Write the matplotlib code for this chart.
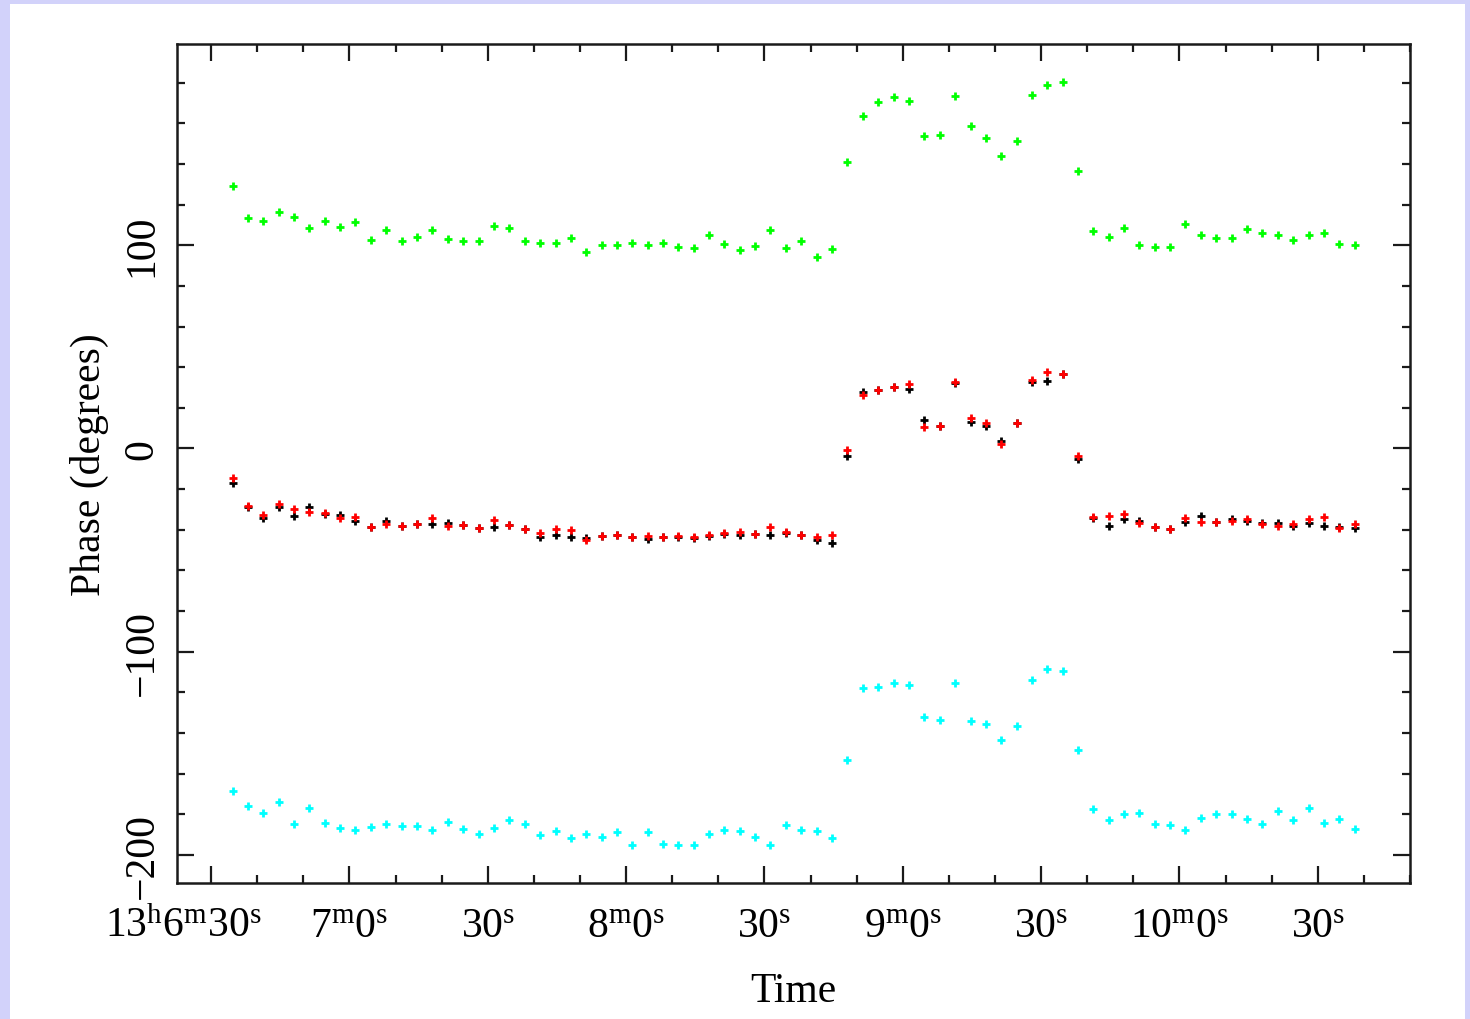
import matplotlib
matplotlib.use('Agg')
import matplotlib.pyplot as plt
from matplotlib.ticker import MultipleLocator
from matplotlib.transforms import ScaledTranslation
from matplotlib.patches import Rectangle

plt.rcParams['font.family'] = ['Liberation Serif', 'DejaVu Serif']
plt.rcParams['mathtext.fontset'] = 'custom'
plt.rcParams['mathtext.rm'] = 'Liberation Serif'
plt.rcParams['axes.unicode_minus'] = True

# seconds after 13h06m00s
times = [34.7, 38.0, 41.3, 44.7, 48.0, 51.3, 54.7, 58.0, 61.3, 64.7, 68.0, 71.3,
         74.7, 78.0, 81.3, 84.7, 88.0, 91.3, 94.7, 98.0, 101.3, 104.7, 108.0, 111.3,
         114.7, 118.0, 121.3, 124.7, 128.0, 131.3, 134.7, 138.0, 141.3, 144.7, 148.0, 151.3,
         154.7, 158.0, 161.3, 164.7, 168.0, 171.3, 174.7, 178.0, 181.3, 184.7, 188.0, 191.3,
         194.7, 198.0, 201.3, 204.7, 208.0, 211.3, 214.7, 218.0, 221.3, 224.7, 228.0, 231.3,
         234.7, 238.0, 241.3, 244.7, 248.0, 251.3, 254.7, 258.0, 261.3, 264.7, 268.0, 271.3,
         274.7, 278.0]

phase_green = [129.2, 113.5, 112.0, 116.1, 114.0, 108.7, 111.8, 109.0, 111.2, 102.8,
               107.4, 102.3, 104.1, 107.7, 103.1, 102.3, 102.0, 109.4, 108.7, 102.0,
               101.2, 101.3, 103.4, 96.7, 100.3, 100.2, 101.0, 100.2, 101.3, 99.2,
               98.5, 104.9, 100.8, 97.4, 99.4, 107.7, 98.5, 102.0, 94.4, 98.0,
               140.8, 163.8, 170.7, 173.0, 170.8, 153.6, 154.0, 173.5, 158.5, 152.6,
               143.8, 151.3, 174.0, 178.9, 180.5, 136.4, 107.1, 103.9, 108.4, 99.9,
               99.2, 99.0, 110.5, 104.8, 103.4, 103.6, 108.1, 106.1, 104.9, 102.8,
               104.9, 105.9, 100.5, 99.9]

phase_cyan = [-168.7, -175.8, -179.2, -173.8, -184.8, -176.7, -184.5, -186.6, -187.6, -186.3,
              -184.8, -185.9, -185.9, -187.9, -183.8, -187.3, -189.9, -186.8, -183.0, -184.8,
              -190.4, -188.1, -191.7, -189.7, -191.2, -188.9, -194.9, -188.7, -194.8, -195.3,
              -194.9, -189.9, -187.6, -188.1, -191.0, -195.1, -185.4, -187.6, -188.4, -191.8,
              -153.3, -117.7, -117.2, -115.2, -116.4, -132.0, -133.6, -115.6, -133.9, -135.8,
              -143.6, -136.7, -114.1, -108.7, -109.7, -148.4, -177.2, -182.7, -180.0, -179.2,
              -184.8, -185.4, -187.9, -181.8, -180.0, -180.0, -182.3, -184.9, -178.6, -182.7,
              -177.1, -184.3, -182.3, -187.1]

phase_red = [-14.6, -28.5, -32.8, -27.5, -30.0, -31.2, -32.0, -34.3, -33.9, -38.4,
             -37.2, -38.0, -37.4, -34.3, -38.0, -37.9, -39.2, -35.3, -37.9, -39.4,
             -41.8, -39.7, -40.3, -45.1, -43.1, -42.6, -43.5, -43.0, -43.5, -43.0,
             -43.5, -42.5, -41.5, -41.0, -42.0, -38.5, -41.0, -42.5, -43.5, -42.5,
             -1.0, 26.4, 28.7, 30.2, 31.8, 10.5, 11.2, 32.5, 14.8, 12.3,
             2.0, 12.3, 33.6, 37.5, 36.5, -3.9, -33.9, -33.4, -32.3, -36.7,
             -38.7, -39.4, -34.1, -36.1, -36.4, -35.9, -34.6, -37.0, -38.2, -37.2,
             -34.9, -33.9, -39.0, -37.0]

phase_black = [-17.1, -28.7, -34.4, -28.7, -33.4, -28.7, -32.3, -32.8, -35.7, -38.4,
               -35.7, -38.0, -37.4, -37.0, -36.5, -37.7, -39.3, -38.5, -37.7, -39.8,
               -43.6, -42.6, -43.6, -44.3, -43.1, -42.6, -43.5, -44.5, -43.5, -43.5,
               -44.0, -43.0, -42.0, -42.5, -42.0, -42.5, -41.5, -42.5, -45.0, -46.5,
               -3.9, 27.9, 28.7, 30.0, 29.5, 13.8, 11.2, 32.3, 12.9, 11.2,
               3.9, 12.3, 32.8, 33.4, 36.5, -5.1, -34.4, -38.0, -34.8, -35.9,
               -38.5, -39.6, -36.2, -33.3, -36.4, -34.9, -35.6, -36.8, -36.7, -38.0,
               -36.5, -38.0, -38.8, -39.0]

xtick_secs = [30, 60, 90, 120, 150, 180, 210, 240, 270]
xtick_labels = [r'$\mathrm{13^{h}6^{m}30^{s}}$', r'$\mathrm{7^{m}0^{s}}$', r'$\mathrm{30^{s}}$',
                r'$\mathrm{8^{m}0^{s}}$', r'$\mathrm{30^{s}}$', r'$\mathrm{9^{m}0^{s}}$',
                r'$\mathrm{30^{s}}$', r'$\mathrm{10^{m}0^{s}}$', r'$\mathrm{30^{s}}$']
ytick_vals = [-200, -100, 0, 100]

fig = plt.figure(figsize=(14.7, 10.2), dpi=100, facecolor='#d2d2fa')
fig.add_artist(Rectangle((10 / 1470, 0), 1455 / 1470, 1015 / 1020, transform=fig.transFigure,
                         facecolor='white', edgecolor='none', zorder=-5))
ax = fig.add_axes([177 / 1470, 1 - 884 / 1020, (1410 - 177) / 1470, (884 - 45) / 1020])

mk = dict(marker='+', ls='none', ms=5.5, mew=2.0)
ax.plot(times, phase_green, color='#00ff00', **mk)
ax.plot(times, phase_cyan, color='#00ffff', **mk)
ax.plot(times, phase_black, color='black', **mk)
ax.plot(times, phase_red, color='#ff0000', **mk)

ax.set_xlim(22.6, 290)
ax.set_ylim(-213.8, 199)

ax.set_xticks(xtick_secs, xtick_labels)
ax.xaxis.set_minor_locator(MultipleLocator(10))
ax.set_yticks(ytick_vals)
ax.yaxis.set_minor_locator(MultipleLocator(20))

ax.tick_params(which='both', direction='in', top=True, right=True, width=1.6, color='#1a1a1a',
               labelsize=30)
ax.tick_params(which='major', length=12)
ax.tick_params(which='minor', length=6)
ax.tick_params(axis='x', pad=17)
ax.tick_params(axis='y', pad=11)
plt.setp(ax.get_yticklabels(), rotation=90, va='center')

# the first label hangs to the left of its tick (hours prefix)
first = ax.get_xticklabels()[0]
first.set_ha('right')
first.set_transform(first.get_transform() + ScaledTranslation(0.5, 0, fig.dpi_scale_trans))

for s in ax.spines.values():
    s.set_linewidth(1.8)
    s.set_color('#1a1a1a')

ax.set_xlabel('Time', fontsize=30, labelpad=19)
ax.set_ylabel('Phase (degrees)', fontsize=30, labelpad=10)

fig.savefig('out.png', dpi=100, facecolor=fig.get_facecolor())
